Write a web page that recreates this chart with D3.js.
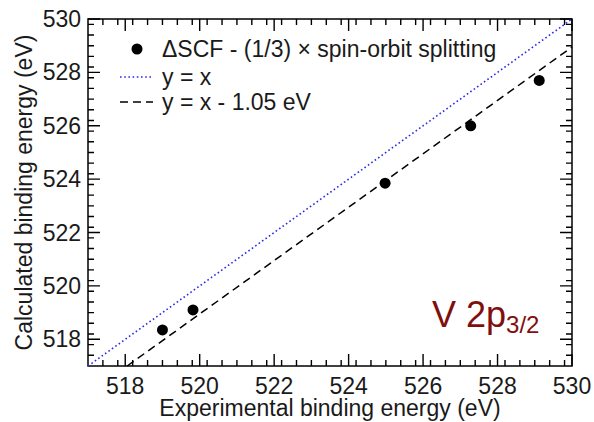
<!DOCTYPE html>
<html>
<head>
<meta charset="utf-8">
<script src="https://cdn.jsdelivr.net/npm/d3@7"></script>
<style>
  html, body { margin: 0; padding: 0; background: #fff; }
  svg { display: block; font-family: "Liberation Sans", Arial, sans-serif; }
</style>
</head>
<body>
<svg id="chart" width="594" height="422"></svg>
<script>
// Experimental vs calculated V 2p3/2 binding energies (eV)
const experimental = [519.0, 519.82, 524.98, 527.28, 529.12];
const calculated   = [518.35, 519.10, 523.85, 526.0, 527.7];
const shift = 1.05;
const majorTicks = [518, 520, 522, 524, 526, 528, 530];
const domain = [517, 530];
const legendLabels = ["\u0394SCF - (1/3) \u00d7 spin-orbit splitting", "y = x", "y = x - 1.05 eV"];

const TXT = "#1a1a1a";
const FS = "23px";
const svg = d3.select("#chart");
const m = { left: 88, right: 22, top: 19, bottom: 56 };
const W = 594, H = 422;
const x = d3.scaleLinear().domain(domain).range([m.left, W - m.right]);
const y = d3.scaleLinear().domain(domain).range([H - m.bottom, m.top]);
const x0 = x(517), x1 = x(530), y0 = y(517), y1 = y(530);

const minorTicks = d3.range(517.4, 530.001, 0.4).map(v => +v.toFixed(1))
  .filter(v => !majorTicks.includes(v));
const allTicks = majorTicks.map(v => ({ v, len: 12 }))
  .concat(minorTicks.map(v => ({ v, len: 6 })));

// Inward ticks on all four sides
const tickPath = (f) => allTicks.map(f).join("");
const sides = [
  tickPath(d => `M${x(d.v)},${y0}V${y0 - d.len}`),
  tickPath(d => `M${x(d.v)},${y1}V${y1 + d.len}`),
  tickPath(d => `M${x0},${y(d.v)}H${x0 + d.len}`),
  tickPath(d => `M${x1},${y(d.v)}H${x1 - d.len}`)
];
svg.append("g").selectAll("path.tk").data(sides).join("path").attr("class", "tk")
  .attr("d", d => d).attr("fill", "none").attr("stroke", "#000").attr("stroke-width", 1.4);

// Axis box
svg.append("rect").attr("x", x0).attr("y", y1)
  .attr("width", x1 - x0).attr("height", y0 - y1)
  .attr("fill", "none").attr("stroke", "#000").attr("stroke-width", 1.5);

// Tick labels
svg.append("g").selectAll("text").data(majorTicks).join("text")
  .attr("x", d => x(d)).attr("y", y0 + 28).attr("text-anchor", "middle")
  .style("font-size", FS).attr("fill", TXT).text(d => d);
svg.append("g").selectAll("text").data(majorTicks).join("text")
  .attr("x", x0 - 7).attr("y", d => y(d) + 8).attr("text-anchor", "end")
  .style("font-size", FS).attr("fill", TXT).text(d => d);

// Reference lines, kept inside the axis box
const line = d3.line().x(d => x(d[0])).y(d => y(d[1]));
svg.append("path").datum(domain.map(v => [v, v]))
  .attr("d", line).attr("fill", "none").attr("stroke", "#2a2ae8")
  .attr("stroke-width", 1.6).attr("stroke-dasharray", "1.6,2.6");
svg.append("path").datum([[domain[0] + shift, domain[0]], [domain[1], domain[1] - shift]])
  .attr("d", line).attr("fill", "none").attr("stroke", "#000")
  .attr("stroke-width", 1.5).attr("stroke-dasharray", "8,5");

// Data points
svg.append("g").selectAll("circle").data(experimental.map((e, i) => [e, calculated[i]]))
  .join("circle")
  .attr("cx", d => x(d[0])).attr("cy", d => y(d[1])).attr("r", 5.5).attr("fill", "#000");

// Axis titles
svg.append("text").attr("x", (x0 + x1) / 2).attr("y", 416)
  .attr("text-anchor", "middle").style("font-size", FS).attr("fill", TXT)
  .text("Experimental binding energy (eV)");
svg.append("text").attr("transform", `translate(32,${(y0 + y1) / 2}) rotate(-90)`)
  .attr("text-anchor", "middle").style("font-size", FS).attr("fill", TXT)
  .text("Calculated binding energy (eV)");

// Legend
const lg = svg.append("g");
const rows = [49, 77, 102];
lg.append("circle").attr("cx", 137).attr("cy", rows[0]).attr("r", 5.5).attr("fill", "#000");
lg.append("path").attr("d", `M120,${rows[1]}H152`)
  .attr("stroke", "#2a2ae8").attr("stroke-width", 1.6).attr("stroke-dasharray", "1.6,2.6");
lg.append("path").attr("d", `M120,${rows[2]}H153`)
  .attr("stroke", "#000").attr("stroke-width", 1.5).attr("stroke-dasharray", "8,5");
lg.selectAll("text").data(legendLabels).join("text")
  .attr("x", 162).attr("y", (d, i) => rows[i] + 8)
  .style("font-size", FS).attr("fill", TXT).text(d => d);

// Panel label
const pl = svg.append("text").attr("x", 432).attr("y", 327)
  .attr("fill", "#7f0f0f").style("font-size", "36px");
pl.append("tspan").text("V 2p");
pl.append("tspan").attr("dy", 6).style("font-size", "24px").text("3/2");
</script>
</body>
</html>
